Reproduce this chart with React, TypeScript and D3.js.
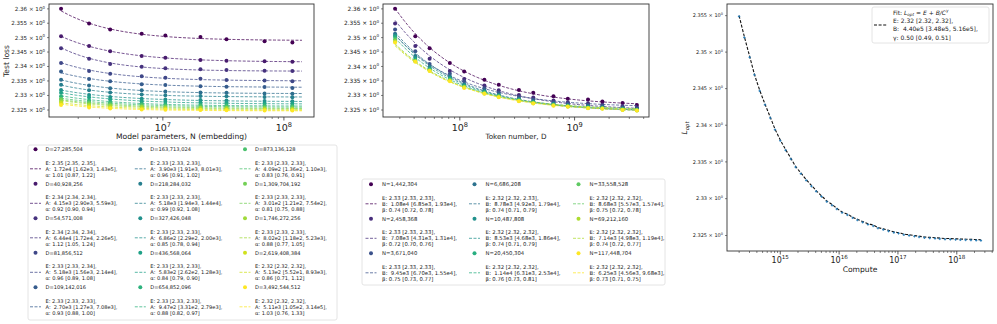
import React, { useEffect, useRef } from 'react';
import * as d3 from 'd3';

// token counts (rows of the loss table) and model sizes (columns)
const tokenCounts = [
  27285504, 40928256, 54571008, 81856512, 109142016, 163713024, 218284032, 327426048,
  436568064, 654852096, 873136128, 1309704192, 1746272256, 2619408384, 3492544512,
];
const paramCounts = [1442304, 2458368, 3671040, 6686208, 10487808, 20450304, 33558528, 69212160, 117448704];

// test loss, one row per token count, one column per model size
const testLoss = [
  [2.3600, 2.3549, 2.3528, 2.3513, 2.3507, 2.3502, 2.3494, 2.3487, 2.3483],
  [2.3505, 2.3471, 2.3453, 2.3436, 2.3430, 2.3422, 2.3420, 2.3418, 2.3416],
  [2.3463, 2.3427, 2.3409, 2.3399, 2.3394, 2.3390, 2.3388, 2.3385, 2.3384],
  [2.3412, 2.3384, 2.3375, 2.3366, 2.3361, 2.3358, 2.3353, 2.3352, 2.3349],
  [2.3383, 2.3357, 2.3349, 2.3339, 2.3336, 2.3332, 2.3330, 2.3329, 2.3326],
  [2.3354, 2.3334, 2.3325, 2.3318, 2.3314, 2.3310, 2.3309, 2.3307, 2.3306],
  [2.3337, 2.3318, 2.3310, 2.3303, 2.3301, 2.3298, 2.3297, 2.3295, 2.3294],
  [2.3319, 2.3302, 2.3295, 2.3289, 2.3286, 2.3284, 2.3283, 2.3281, 2.3280],
  [2.3309, 2.3293, 2.3286, 2.3280, 2.3278, 2.3276, 2.3275, 2.3273, 2.3272],
  [2.3297, 2.3283, 2.3277, 2.3272, 2.3270, 2.3268, 2.3267, 2.3266, 2.3265],
  [2.3289, 2.3277, 2.3272, 2.3267, 2.3265, 2.3264, 2.3263, 2.3262, 2.3261],
  [2.3286, 2.3273, 2.3267, 2.3263, 2.3261, 2.3259, 2.3258, 2.3257, 2.3256],
  [2.3279, 2.3268, 2.3264, 2.3260, 2.3258, 2.3257, 2.3256, 2.3255, 2.3254],
  [2.3274, 2.3263, 2.3259, 2.3255, 2.3254, 2.3252, 2.3252, 2.3251, 2.3250],
  [2.3267, 2.3259, 2.3255, 2.3252, 2.3251, 2.3250, 2.3249, 2.3248, 2.3248],
];

// fits L = E + A / N^alpha, one per token count
const nFitE = [2.35, 2.34, 2.34, 2.33, 2.33, 2.33, 2.33, 2.33, 2.33, 2.33, 2.33, 2.33, 2.33, 2.32, 2.32];
const nFitELo = [2.35, 2.34, 2.34, 2.33, 2.33, 2.33, 2.33, 2.33, 2.33, 2.33, 2.33, 2.33, 2.33, 2.32, 2.32];
const nFitEHi = [2.35, 2.34, 2.34, 2.34, 2.33, 2.33, 2.33, 2.33, 2.33, 2.33, 2.33, 2.33, 2.33, 2.32, 2.32];
const nFitA = [1.72e4, 4.15e3, 6.44e4, 5.18e3, 2.70e3, 3.90e3, 5.18e3, 6.86e2, 5.83e2, 9.47e2, 4.09e2, 3.01e2, 8.02e2, 5.13e2, 5.11e3];
const nFitALo = [1.62e3, 2.90e3, 1.72e4, 1.56e3, 1.27e3, 1.91e3, 1.94e3, 2.29e2, 2.62e2, 3.31e2, 1.36e2, 1.21e2, 1.18e2, 5.52e1, 1.05e2];
const nFitAHi = [1.43e5, 5.59e3, 2.26e5, 2.14e4, 7.08e3, 8.01e3, 1.44e4, 2.00e3, 1.28e3, 2.79e3, 1.10e3, 7.54e2, 5.23e3, 8.93e3, 3.14e5];
const nFitAlpha = [1.01, 0.92, 1.12, 0.96, 0.93, 0.96, 0.99, 0.85, 0.84, 0.88, 0.83, 0.81, 0.88, 0.86, 1.03];
const nFitAlphaLo = [0.87, 0.90, 1.05, 0.89, 0.88, 0.91, 0.92, 0.78, 0.79, 0.82, 0.76, 0.75, 0.77, 0.71, 0.76];
const nFitAlphaHi = [1.22, 0.94, 1.24, 1.08, 1.00, 1.02, 1.08, 0.94, 0.90, 0.97, 0.91, 0.88, 1.05, 1.12, 1.33];

// fits L = E + B / D^beta, one per model size
const dFitE = [2.33, 2.33, 2.33, 2.32, 2.32, 2.32, 2.32, 2.32, 2.32];
const dFitELo = [2.33, 2.33, 2.33, 2.32, 2.32, 2.32, 2.32, 2.32, 2.32];
const dFitEHi = [2.33, 2.33, 2.33, 2.33, 2.32, 2.32, 2.32, 2.32, 2.32];
const dFitB = [1.08e4, 7.08e3, 9.45e3, 8.78e3, 8.53e3, 1.14e4, 8.68e3, 7.14e3, 6.25e3];
const dFitBLo = [6.85e3, 4.31e3, 6.70e3, 4.92e3, 4.68e3, 6.31e3, 5.57e3, 4.98e3, 4.56e3];
const dFitBHi = [1.93e4, 1.31e4, 1.55e4, 1.79e4, 1.86e4, 2.53e4, 1.57e4, 1.19e4, 9.68e3];
const dFitBeta = [0.74, 0.72, 0.75, 0.74, 0.74, 0.76, 0.75, 0.74, 0.73];
const dFitBetaLo = [0.72, 0.70, 0.73, 0.71, 0.71, 0.73, 0.72, 0.72, 0.71];
const dFitBetaHi = [0.78, 0.76, 0.77, 0.79, 0.79, 0.81, 0.78, 0.77, 0.75];

// compute-optimal frontier
const computeExp = [
  14.30, 14.39, 14.48, 14.56, 14.65, 14.74, 14.83, 14.91, 15.00, 15.09, 15.18, 15.26,
  15.35, 15.44, 15.53, 15.61, 15.70, 15.79, 15.88, 15.96, 16.05, 16.14, 16.23, 16.31,
  16.40, 16.49, 16.58, 16.66, 16.75, 16.84, 16.93, 17.01, 17.10, 17.19, 17.28, 17.36,
  17.45, 17.54, 17.63, 17.71, 17.80, 17.89, 17.98, 18.06, 18.15, 18.24, 18.33, 18.41,
];
const optLoss = [
  2.3550, 2.3521, 2.3494, 2.3470, 2.3448, 2.3429, 2.3411, 2.3395, 2.3380, 2.3367, 2.3355, 2.3344,
  2.3335, 2.3326, 2.3318, 2.3311, 2.3304, 2.3297, 2.3292, 2.3287, 2.3282, 2.3279, 2.3275, 2.3272,
  2.3269, 2.3266, 2.3264, 2.3261, 2.3259, 2.3257, 2.3255, 2.3254, 2.3252, 2.3251, 2.3250, 2.3249,
  2.3248, 2.32475, 2.3247, 2.32465, 2.3246, 2.32458, 2.32455, 2.32452, 2.3245, 2.32448, 2.32445, 2.32442,
];
const optFitE = [2.32, 2.32, 2.32];
const optFitB = [4.40e5, 3.48e5, 5.16e5];
const optFitGamma = [0.50, 0.49, 0.51];

const lossTicks = [2.325, 2.33, 2.335, 2.34, 2.345, 2.35, 2.355, 2.36];
const optTicks = [2.325, 2.33, 2.335, 2.34, 2.345, 2.35, 2.355];

const FONT = 'DejaVu Sans, sans-serif';
const fmtSci = (v) => {
  const [m, e] = v.toExponential(2).split('e');
  return `${m}e${+e}`;
};
const padLog = (a, b) => {
  const la = Math.log10(a), lb = Math.log10(b), m = (lb - la) * 0.05;
  return [10 ** (la - m), 10 ** (lb + m)];
};

function drawAxes(g, x, y, o) {
  const [x0, x1] = x.range();
  const [y1, y0] = y.range();
  g.append('rect').attr('x', x0).attr('y', y0).attr('width', x1 - x0).attr('height', y1 - y0)
    .attr('fill', 'none').attr('stroke', '#333').attr('stroke-width', 0.9);

  o.yTicks.forEach((t) => {
    const yy = y(t);
    g.append('line').attr('x1', x0 - 2).attr('x2', x0).attr('y1', yy).attr('y2', yy).attr('stroke', '#333').attr('stroke-width', 0.6);
    const tx = g.append('text').attr('x', x0 - 4).attr('y', yy + o.yFont * 0.35).attr('text-anchor', 'end')
      .attr('font-size', o.yFont).attr('font-family', FONT).attr('fill', '#222');
    tx.append('tspan').text(`${t} × 10`);
    tx.append('tspan').attr('dy', -o.yFont * 0.4).attr('font-size', o.yFont * 0.7).text('0');
  });

  const [d0, d1] = x.domain();
  for (let k = Math.floor(Math.log10(d0)); k <= Math.ceil(Math.log10(d1)); k++) {
    for (let m = 1; m <= 9; m++) {
      const v = m * 10 ** k;
      if (v < d0 || v > d1) continue;
      const xx = x(v);
      const len = m === 1 ? 3.5 : 2;
      g.append('line').attr('x1', xx).attr('x2', xx).attr('y1', y1).attr('y2', y1 + len)
        .attr('stroke', '#333').attr('stroke-width', m === 1 ? 0.8 : 0.6);
      if (m === 1) {
        const tx = g.append('text').attr('x', xx).attr('y', y1 + o.xTickDy).attr('text-anchor', 'middle')
          .attr('font-size', o.xFont).attr('font-family', FONT).attr('fill', '#222');
        tx.append('tspan').text('10');
        tx.append('tspan').attr('dy', -o.xFont * 0.45).attr('font-size', o.xFont * 0.7).text(`${k}`);
      }
    }
  }
  g.append('text').attr('x', (x0 + x1) / 2).attr('y', o.xLabelY).attr('text-anchor', 'middle')
    .attr('font-size', o.labelFont).attr('font-family', FONT).attr('fill', '#222').text(o.xLabel);
}

function drawLegendBox(g, x, y, w, h) {
  g.append('rect').attr('x', x).attr('y', y).attr('width', w).attr('height', h).attr('rx', 2)
    .attr('fill', 'white').attr('stroke', '#ddd').attr('stroke-width', 0.8);
}

function legendEntry(g, cx, tx, y0, color, title, lines, font) {
  g.append('circle').attr('cx', cx).attr('cy', y0).attr('r', 2).attr('fill', color);
  g.append('text').attr('x', tx).attr('y', y0 + font * 0.35).attr('font-size', font).attr('font-family', FONT)
    .attr('fill', '#222').text(title);
  g.append('line').attr('x1', cx - 5.5).attr('x2', cx + 5.5).attr('y1', y0 + 19.5).attr('y2', y0 + 19.5)
    .attr('stroke', color).attr('stroke-width', 1).attr('stroke-dasharray', '3,1.5').attr('opacity', 0.75);
  lines.forEach((s, i) => {
    g.append('text').attr('x', tx).attr('y', y0 + 13.5 + i * 6 + font * 0.35).attr('font-size', font)
      .attr('font-family', FONT).attr('fill', '#222').style('white-space', 'pre').text(s);
  });
}

const App = () => {
  const ref = useRef(null);

  useEffect(() => {
    const svg = d3.select(ref.current);
    svg.selectAll('*').remove();
    const g = svg.append('g');

    const nColor = (j) => d3.interpolateViridis(j / (tokenCounts.length - 1));
    const dColor = (i) => d3.interpolateViridis(i / (paramCounts.length - 1));
    const yLoss = (top, bottom) => d3.scaleLog().domain([2.3226, 2.3617]).range([bottom, top]);
    const lineDash = '3,1.5';

    // ---- panel 1: loss vs model parameters ----
    const nMax = d3.max(paramCounts) * 1.2;
    const x1 = d3.scaleLog().domain(padLog(d3.min(paramCounts), nMax)).range([49, 314]);
    const y1 = yLoss(4, 117);
    drawAxes(g, x1, y1, { yTicks: lossTicks, yFont: 5.6, xFont: 9.5, xTickDy: 14, labelFont: 7.6, xLabelY: 139, xLabel: 'Model parameters, N (embedding)' });
    g.append('text').attr('transform', 'translate(9,61) rotate(-90)').attr('text-anchor', 'middle')
      .attr('font-size', 7.6).attr('font-family', FONT).attr('fill', '#222').text('Test loss');

    const nGrid = d3.range(80).map((k) => 10 ** (Math.log10(paramCounts[0]) + (Math.log10(nMax) - Math.log10(paramCounts[0])) * k / 79));
    tokenCounts.forEach((D, j) => {
      const row = testLoss[j];
      const term = (n) => nFitA[j] / n ** nFitAlpha[j];
      const E = d3.mean(paramCounts, (n, i) => row[i] - term(n));
      g.append('path').datum(nGrid).attr('fill', 'none').attr('stroke', nColor(j)).attr('stroke-width', 1)
        .attr('stroke-dasharray', lineDash).attr('opacity', 0.75)
        .attr('d', d3.line().x((n) => x1(n)).y((n) => y1(E + term(n))));
      g.selectAll(null).data(paramCounts).enter().append('circle')
        .attr('cx', (n) => x1(n)).attr('cy', (n, i) => y1(row[i])).attr('r', 2).attr('fill', nColor(j));
    });

    // ---- panel 2: loss vs tokens ----
    const x2 = d3.scaleLog().domain(padLog(d3.min(tokenCounts), d3.max(tokenCounts))).range([383, 649]);
    const y2 = yLoss(4, 117);
    drawAxes(g, x2, y2, { yTicks: lossTicks, yFont: 5.8, xFont: 9.5, xTickDy: 14, labelFont: 7.2, xLabelY: 139, xLabel: 'Token number, D' });
    const dGrid = d3.range(80).map((k) => 10 ** (Math.log10(tokenCounts[0]) + (Math.log10(tokenCounts[14]) - Math.log10(tokenCounts[0])) * k / 79));
    paramCounts.forEach((N, i) => {
      const col = testLoss.map((r) => r[i]);
      const term = (d) => dFitB[i] / d ** dFitBeta[i];
      const E = d3.mean(tokenCounts, (d, j) => col[j] - term(d));
      g.append('path').datum(dGrid).attr('fill', 'none').attr('stroke', dColor(i)).attr('stroke-width', 1)
        .attr('stroke-dasharray', lineDash).attr('opacity', 0.75)
        .attr('d', d3.line().x((d) => x2(d)).y((d) => y2(E + term(d))));
      g.selectAll(null).data(tokenCounts).enter().append('circle')
        .attr('cx', (d) => x2(d)).attr('cy', (d, j) => y2(col[j])).attr('r', 2).attr('fill', dColor(i));
    });

    // ---- panel 3: compute-optimal loss ----
    const compute = computeExp.map((e) => 10 ** e);
    const x3 = d3.scaleLog().domain(padLog(d3.min(compute), d3.max(compute))).range([727, 993]);
    const y3 = d3.scaleLog().domain([2.3229, 2.3566]).range([251, 4]);
    drawAxes(g, x3, y3, { yTicks: optTicks, yFont: 5, xFont: 8, xTickDy: 12, labelFont: 7.6, xLabelY: 272, xLabel: 'Compute' });
    const yl = g.append('text').attr('transform', 'translate(687,128) rotate(-90)').attr('text-anchor', 'middle')
      .attr('font-size', 7.6).attr('font-family', FONT).attr('fill', '#222');
    yl.append('tspan').attr('font-style', 'italic').text('L');
    yl.append('tspan').attr('dy', 1.8).attr('font-size', 5.3).attr('font-style', 'italic').text('opt');

    g.append('path').datum(compute).attr('fill', 'none').attr('stroke', '#111').attr('stroke-width', 1.1)
      .attr('stroke-dasharray', '3,1.6')
      .attr('d', d3.line().x((c) => x3(c)).y((c, k) => y3(optLoss[k])).curve(d3.curveMonotoneX));
    const marks = g.selectAll(null).data(compute).enter().append('g')
      .attr('transform', (c, k) => `translate(${x3(c)},${y3(optLoss[k]) + 0.8})`);
    marks.append('line').attr('x1', -1.2).attr('x2', 1.2).attr('stroke', '#1f77b4').attr('stroke-width', 0.9);
    marks.append('line').attr('y1', -1.2).attr('y2', 1.2).attr('stroke', '#1f77b4').attr('stroke-width', 0.9);

    // right legend
    drawLegendBox(g, 872, 7, 117, 36);
    g.append('line').attr('x1', 874).attr('x2', 887).attr('y1', 25).attr('y2', 25).attr('stroke', '#111')
      .attr('stroke-width', 1.1).attr('stroke-dasharray', '3,1.6');
    const rf = 6;
    const t0 = g.append('text').attr('x', 893).attr('y', 12.7 + rf * 0.35).attr('font-size', rf).attr('font-family', FONT).attr('fill', '#222');
    t0.append('tspan').text('Fit: ');
    t0.append('tspan').attr('font-style', 'italic').text('L');
    t0.append('tspan').attr('dy', 1.4).attr('font-size', rf * 0.7).attr('font-style', 'italic').text('opt');
    t0.append('tspan').attr('dy', -1.4).text(' = ');
    t0.append('tspan').attr('font-style', 'italic').text('E');
    t0.append('tspan').text(' + ');
    t0.append('tspan').attr('font-style', 'italic').text('B/C');
    t0.append('tspan').attr('dy', -2.4).attr('font-size', rf * 0.7).attr('font-style', 'italic').text('γ');
    [
      `E: ${optFitE[0].toFixed(2)} [${optFitE[1].toFixed(2)}, ${optFitE[2].toFixed(2)}],`,
      `B:  ${fmtSci(optFitB[0])} [${fmtSci(optFitB[1])}, ${fmtSci(optFitB[2])}],`,
      `γ: ${optFitGamma[0].toFixed(2)} [${optFitGamma[1].toFixed(2)}, ${optFitGamma[2].toFixed(2)}]`,
    ].forEach((s, k) => {
      g.append('text').attr('x', 893).attr('y', 21 + k * 8.3 + rf * 0.35).attr('font-size', rf).attr('font-family', FONT)
        .attr('fill', '#222').style('white-space', 'pre').text(s);
    });

    // left legend
    drawLegendBox(g, 28, 145, 309, 175);
    const lf = 5.1;
    tokenCounts.forEach((D, j) => {
      const c = Math.floor(j / 5), r = j % 5;
      const cx = [35.5, 140.3, 245][c];
      legendEntry(g, cx, cx + 10, 149.3 + r * 34.5, nColor(j), `D=${d3.format(',')(D)}`, [
        `E: ${nFitE[j].toFixed(2)} [${nFitELo[j].toFixed(2)}, ${nFitEHi[j].toFixed(2)}],`,
        `A:  ${fmtSci(nFitA[j])} [${fmtSci(nFitALo[j])}, ${fmtSci(nFitAHi[j])}],`,
        `α: ${nFitAlpha[j].toFixed(2)} [${nFitAlphaLo[j].toFixed(2)}, ${nFitAlphaHi[j].toFixed(2)}]`,
      ], lf);
    });

    // middle legend
    drawLegendBox(g, 362, 179, 303, 106);
    paramCounts.forEach((N, i) => {
      const c = Math.floor(i / 3), r = i % 3;
      const cx = [371, 474.5, 578.5][c];
      legendEntry(g, cx, cx + 11, 184.3 + r * 34.5, dColor(i), `N=${d3.format(',')(N)}`, [
        `E: ${dFitE[i].toFixed(2)} [${dFitELo[i].toFixed(2)}, ${dFitEHi[i].toFixed(2)}],`,
        `B:  ${fmtSci(dFitB[i])} [${fmtSci(dFitBLo[i])}, ${fmtSci(dFitBHi[i])}],`,
        `β: ${dFitBeta[i].toFixed(2)} [${dFitBetaLo[i].toFixed(2)}, ${dFitBetaHi[i].toFixed(2)}]`,
      ], 5.3);
    });
  }, []);

  return (
    <svg ref={ref} width={997} height={324}
      style={{ position: 'absolute', left: 0, top: 0, background: 'white' }} />
  );
};

export default App;
